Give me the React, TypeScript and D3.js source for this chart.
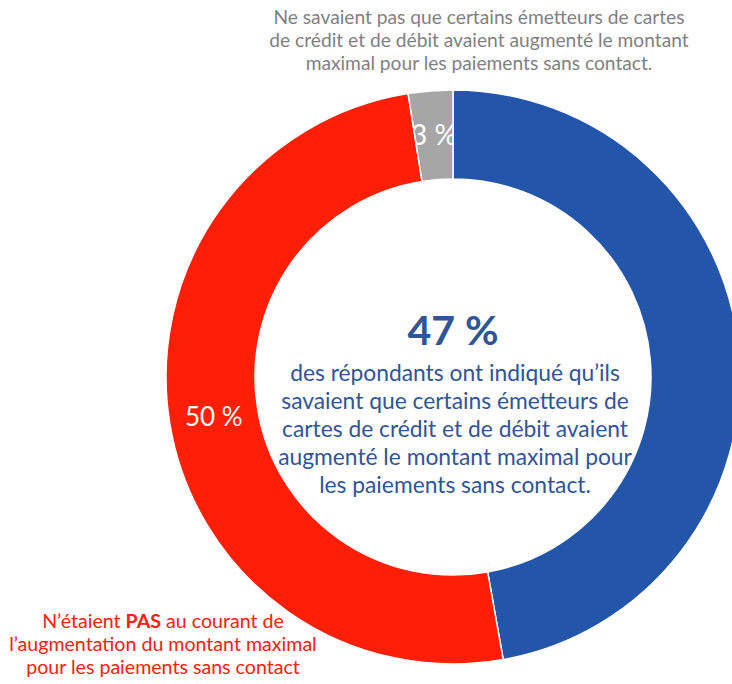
import React from "react";
import * as d3 from "d3";

const categories = ["Savaient", "Ne savaient pas (PAS au courant)", "Ne savaient pas (émetteurs)"];
const values = [47.2, 50.3, 2.5];
const sliceLabels = ["47 %", "50 %", "3 %"];
const colors = ["#2355AA", "#FF1F07", "#A6A6A6"];

const topNote = [
  "Ne savaient pas que certains émetteurs de cartes",
  "de crédit et de débit avaient augmenté le montant",
  "maximal pour les paiements sans contact.",
];
const centerBig = "47 %";
const centerLines = [
  "des répondants ont indiqué qu’ils",
  "savaient que certains émetteurs de",
  "cartes de crédit et de débit avaient",
  "augmenté le montant maximal pour",
  "les paiements sans contact.",
];

const W = 732;
const H = 684;
const cx = 453;
const cy = 377;
const R = 287;
const r = 198;
const FONT = "Lato, 'Open Sans', sans-serif";

export default function App() {
  const pie = d3.pie<number>().sort(null).value((d) => d);
  const arcs = pie(values);
  const arc = d3.arc<d3.PieArcDatum<number>>().innerRadius(r).outerRadius(R);
  const labelArc = d3.arc<d3.PieArcDatum<number>>().innerRadius((r + R) / 2).outerRadius((r + R) / 2);

  return (
    <svg width={W} height={H} style={{ position: "absolute", left: 0, top: 0, background: "#fff" }}>
      <defs>
        {arcs.map((a, i) => (
          <clipPath key={"c" + i} id={"clip" + i}>
            <path d={arc(a) || ""} />
          </clipPath>
        ))}
      </defs>
      <g transform={`translate(${cx},${cy})`}>
        {arcs.map((a, i) => (
          <path key={categories[i]} d={arc(a) || ""} fill={colors[i]} stroke="#fff" strokeWidth={1.5} />
        ))}
        {arcs.map((a, i) => {
          if (i === 0) return null;
          const [x, y] = labelArc.centroid(a);
          return (
            <g key={"l" + i} clipPath={i === 2 ? "url(#clip2)" : undefined}>
              <text
                x={x}
                y={y}
                dy="0.35em"
                textAnchor="middle"
                fill="#fff"
                fontFamily={FONT}
                fontSize={i === 2 ? 28 : 26}
              >
                {sliceLabels[i]}
              </text>
            </g>
          );
        })}
      </g>
      <g fontFamily={FONT} textAnchor="middle">
        {topNote.map((t, i) => (
          <text key={t} x={479} y={24 + i * 23} fontSize={19.2} fill="#808080">
            {t}
          </text>
        ))}
        <text x={453} y={345} fontSize={41} fontWeight="bold" fill="#2F5597">
          {centerBig}
        </text>
        {centerLines.map((t, i) => (
          <text key={t} x={455} y={381 + i * 28} fontSize={22.8} fill="#2F5597">
            {t}
          </text>
        ))}
        <text x={163} y={628} fontSize={19.6} fill="#FF2010">
          <tspan>N’étaient </tspan>
          <tspan fontWeight="bold">PAS</tspan>
          <tspan> au courant de</tspan>
        </text>
        <text x={163} y={651} fontSize={19.6} fill="#FF2010">
          l’augmentation du montant maximal
        </text>
        <text x={163} y={674} fontSize={19.6} fill="#FF2010">
          pour les paiements sans contact
        </text>
      </g>
    </svg>
  );
}
